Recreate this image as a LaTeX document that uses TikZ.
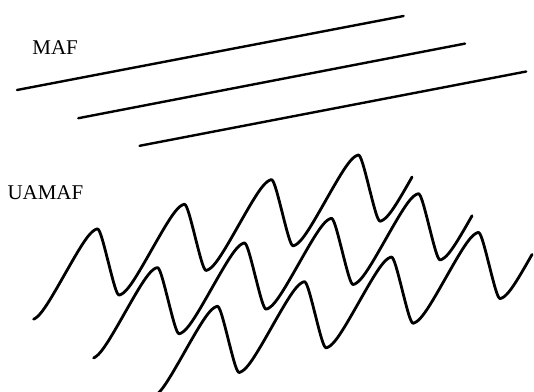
\documentclass[tikz,border=0pt]{standalone}
\usepackage{fontspec}
\setmainfont{Liberation Serif}
\begin{document}
\begin{tikzpicture}[x=1pt,y=-1pt,
  flat/.style={line width=2.4pt,line cap=round},
  wave/.style={line width=2.8pt,line cap=round,line join=round},
  lbl/.style={anchor=base west,inner sep=0pt,font=\fontsize{21}{25}\selectfont},
  declare function={
    wr(\a)=\a-360*floor(\a/360);
    wx(\a)=87*floor(\a/360)+64.5*min(wr(\a),180)/180+22.5*max(wr(\a)-180,0)/180;
    wf(\a)=asin(0.85*sin(\a-90))/asin(0.85);
  }]
\useasboundingbox (0,0) rectangle (534,391);
\fill[white] (0,0) rectangle (534,391);
% labels
\node[lbl] (maf) at (32.2,54) {MAF};
\node[lbl] (uamaf) at (7.3,199.4) {UAMAF};
% MAF straight lines
\coordinate (a1) at (17,90);   \coordinate (b1) at (403.6,16);
\coordinate (a2) at (78.3,118.2); \coordinate (b2) at (465,43.6);
\coordinate (a3) at (139.6,145.8); \coordinate (b3) at (526.2,71.5);
\draw[flat] (a1) -- (b1);
\draw[flat] (a2) -- (b2);
\draw[flat] (a3) -- (b3);
% UAMAF waves
\begin{scope}
\clip (0,0) rectangle (534,391);
\foreach \k in {0,1,2} {
  \pgfmathsetmacro\ox{32.5+60*\k}
  \pgfmathsetmacro\oy{283.4+38.7*\k}
  \draw[wave] plot[variable=\t,domain=3:1528,samples=460,smooth]
    ({\ox+wx(\t)},{\oy-0.283*wx(\t)-36.2*wf(\t)});
}
\end{scope}
\end{tikzpicture}
\end{document}
